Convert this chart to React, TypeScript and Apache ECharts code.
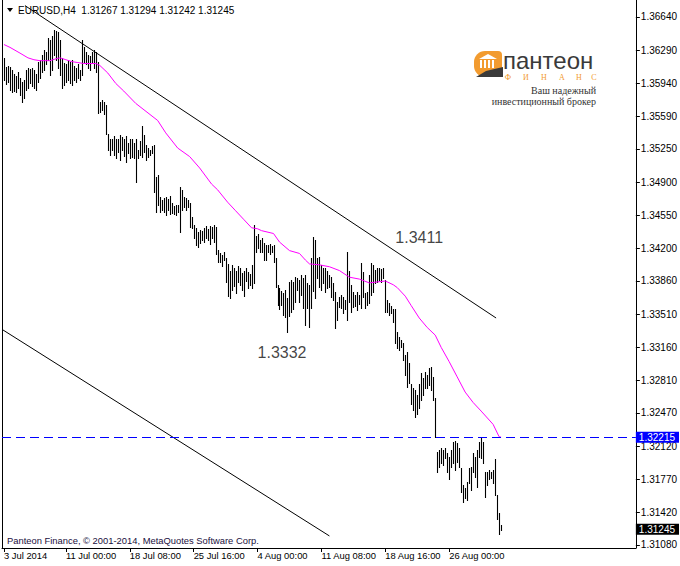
import React, { useEffect, useRef } from "react";
import * as echarts from "echarts";

// ---- data ----
const highs = [
  1.3621, 1.3611, 1.3612, 1.3611, 1.3608, 1.3604, 1.3602, 1.3606, 1.36, 1.3596,
  1.3598, 1.3608, 1.361, 1.3609, 1.361, 1.3608, 1.3604, 1.3617, 1.3619, 1.3624,
  1.3629, 1.3627, 1.3642, 1.364, 1.3644, 1.365, 1.3649, 1.3648, 1.364, 1.3621,
  1.3616, 1.3614, 1.3619, 1.3617, 1.3619, 1.3612, 1.361, 1.3615, 1.3608, 1.364,
  1.3632, 1.3627, 1.3624, 1.3623, 1.3627, 1.3629, 1.3627, 1.3617, 1.3574, 1.3577,
  1.3574, 1.3571, 1.3541, 1.3536, 1.3535, 1.3539, 1.3536, 1.3535, 1.354, 1.3538,
  1.3535, 1.3539, 1.3531, 1.3535, 1.3535, 1.3531, 1.3535, 1.3524, 1.3533, 1.3549,
  1.354, 1.3529, 1.3526, 1.3524, 1.3528, 1.3529, 1.3495, 1.3498, 1.3474, 1.3471,
  1.3473, 1.3474, 1.3472, 1.3476, 1.3468, 1.3465, 1.3466, 1.3466, 1.3485, 1.3482,
  1.3474, 1.3473, 1.3471, 1.3468, 1.3453, 1.3445, 1.3442, 1.3438, 1.344, 1.3439,
  1.3442, 1.3444, 1.3441, 1.3444, 1.3443, 1.3445, 1.3443, 1.3419, 1.3415, 1.3413,
  1.3417, 1.341, 1.3404, 1.3397, 1.3403, 1.34, 1.3397, 1.3402, 1.34, 1.3394,
  1.3397, 1.34, 1.3395, 1.3393, 1.3403, 1.3445, 1.3433, 1.3435, 1.3429, 1.3431,
  1.3426, 1.3424, 1.3424, 1.3425, 1.3423, 1.3424, 1.341, 1.3382, 1.3379, 1.3375,
  1.3373, 1.3377, 1.3368, 1.3385, 1.3387, 1.3385, 1.339, 1.3389, 1.3387, 1.3392,
  1.3389, 1.3392, 1.3384, 1.3382, 1.341, 1.3432, 1.3429, 1.341, 1.3411, 1.3403,
  1.34, 1.34, 1.3396, 1.3392, 1.339, 1.3384, 1.3374, 1.3364, 1.3369, 1.3371,
  1.3369, 1.3366, 1.3416, 1.3396, 1.3382, 1.3374, 1.3371, 1.3374, 1.3371, 1.3405,
  1.3395, 1.3373, 1.3374, 1.3392, 1.3405, 1.3403, 1.3398, 1.34, 1.34, 1.3399,
  1.34, 1.3387, 1.3366, 1.3363, 1.336, 1.3357, 1.3357, 1.3332, 1.3327, 1.3324,
  1.3321, 1.3308, 1.3311, 1.33, 1.3277, 1.3273, 1.3271, 1.3266, 1.3277, 1.3289,
  1.3284, 1.329, 1.3287, 1.3294, 1.3295, 1.3285, 1.3263, 1.3206, 1.3208, 1.321,
  1.3208, 1.321, 1.3205, 1.3201, 1.3208, 1.3216, 1.3217, 1.3215, 1.321, 1.3189,
  1.3171, 1.3168, 1.3174, 1.3189, 1.319, 1.3205, 1.3201, 1.3208, 1.3216, 1.3221,
  1.3216, 1.3185, 1.3185, 1.3187, 1.3185, 1.3187, 1.3198, 1.3161, 1.3142, 1.3129,
];
const lows = [
  1.3598, 1.3593, 1.3596, 1.3587, 1.3585, 1.3586, 1.3585, 1.3589, 1.3582, 1.3575,
  1.3579, 1.3587, 1.3589, 1.3594, 1.3591, 1.3589, 1.3587, 1.3596, 1.36, 1.3606,
  1.3608, 1.3614, 1.3619, 1.3603, 1.3608, 1.3624, 1.3619, 1.361, 1.3603, 1.3589,
  1.3592, 1.3596, 1.3598, 1.3594, 1.3592, 1.3598, 1.3596, 1.36, 1.3598, 1.3603,
  1.3617, 1.3614, 1.361, 1.3608, 1.3617, 1.361, 1.3606, 1.3563, 1.3564, 1.3566,
  1.3562, 1.3541, 1.3524, 1.3519, 1.3524, 1.3519, 1.3516, 1.3522, 1.3513, 1.3524,
  1.3518, 1.3511, 1.3521, 1.3516, 1.3517, 1.3516, 1.349, 1.3516, 1.3519, 1.3517,
  1.3522, 1.3513, 1.3517, 1.3519, 1.3521, 1.348, 1.3459, 1.3466, 1.3459, 1.3461,
  1.3459, 1.3456, 1.3461, 1.3457, 1.3458, 1.3457, 1.3456, 1.3459, 1.3438, 1.3461,
  1.3464, 1.3461, 1.3464, 1.3443, 1.3442, 1.3431, 1.3424, 1.3422, 1.3426, 1.3429,
  1.3427, 1.3431, 1.3429, 1.3425, 1.3431, 1.3427, 1.3414, 1.3406, 1.3406, 1.3402,
  1.3408, 1.3385, 1.337, 1.3368, 1.3377, 1.3381, 1.3373, 1.3385, 1.3382, 1.3377,
  1.337, 1.3386, 1.3379, 1.3382, 1.3379, 1.3384, 1.3417, 1.3421, 1.3417, 1.3416,
  1.3408, 1.3408, 1.3416, 1.3414, 1.3417, 1.3406, 1.338, 1.3361, 1.3356, 1.3361,
  1.335, 1.3348, 1.3332, 1.3349, 1.3353, 1.3357, 1.3364, 1.3377, 1.3364, 1.3371,
  1.3358, 1.334, 1.3358, 1.3338, 1.3358, 1.3375, 1.3368, 1.3389, 1.338, 1.3377,
  1.3384, 1.3374, 1.3379, 1.338, 1.3369, 1.3366, 1.3337, 1.3345, 1.3359, 1.3358,
  1.3352, 1.3356, 1.3345, 1.3364, 1.3353, 1.3359, 1.336, 1.3355, 1.3362, 1.3358,
  1.3369, 1.3358, 1.3361, 1.3363, 1.3371, 1.3374, 1.3384, 1.3385, 1.3387, 1.3385,
  1.3389, 1.3353, 1.3353, 1.335, 1.3352, 1.3343, 1.3321, 1.3315, 1.3313, 1.3317,
  1.3303, 1.3287, 1.3274, 1.3279, 1.3256, 1.325, 1.3243, 1.3246, 1.3252, 1.3261,
  1.3266, 1.3273, 1.3273, 1.3276, 1.3271, 1.3261, 1.3222, 1.3185, 1.319, 1.3194,
  1.3192, 1.32, 1.3185, 1.3177, 1.319, 1.3194, 1.3187, 1.3195, 1.319, 1.3164,
  1.3153, 1.3157, 1.3155, 1.3173, 1.3166, 1.3185, 1.318, 1.3169, 1.3201, 1.32,
  1.3194, 1.3159, 1.3171, 1.3177, 1.3179, 1.3173, 1.3161, 1.3135, 1.312, 1.3124,
];

// moving average (bar index, value)
const maIdx = [0, 3, 8, 12, 15, 18, 23, 26, 28, 31, 34, 37, 40, 46, 48, 52, 56, 60, 66, 77, 81, 87, 93, 98, 104, 107, 112, 116, 120, 124, 127, 129, 135, 138, 143, 148, 151, 153, 158, 163, 168, 173, 178, 183, 187, 191, 195, 197, 201, 204, 208, 212, 216, 219, 223, 227, 231, 235, 239, 245, 248, 249];
const maVal = [1.3635, 1.3632, 1.3626, 1.3621, 1.3619, 1.3618, 1.3618, 1.362, 1.3621, 1.3619, 1.3617, 1.3616, 1.3615, 1.3615, 1.3613, 1.3605, 1.3594, 1.3586, 1.3573, 1.3555, 1.3542, 1.3526, 1.3517, 1.3505, 1.3488, 1.3482, 1.3469, 1.346, 1.3451, 1.3442, 1.3441, 1.3439, 1.3436, 1.3427, 1.3418, 1.3415, 1.3408, 1.3404, 1.3403, 1.3401, 1.3397, 1.339, 1.3388, 1.3384, 1.3385, 1.3386, 1.3382, 1.3379, 1.337, 1.336, 1.3347, 1.3337, 1.3329, 1.3316, 1.3301, 1.3285, 1.3269, 1.3258, 1.3249, 1.3235, 1.3222, 1.32215];

// trend lines (bar index, price)
const upperLine = [[10.5, 1.3676], [246.5, 1.3347]];
const lowerLine = [[-0.5, 1.33344], [163, 1.31175]];

// annotations
const noteIdx = [196, 127];
const notePrice = [1.3432, 1.3311];
const noteText = ["1.3411", "1.3332"];

const levelPrice = 1.32215;
const bidPrice = 1.31245;
const lastOHLC = ["1.31267", "1.31294", "1.31242", "1.31245"];
const symbolName = "EURUSD,H4";

const yTicks = [1.3108, 1.3142, 1.3177, 1.3212, 1.3247, 1.3281, 1.3316, 1.3351, 1.3386, 1.342, 1.3455, 1.349, 1.3525, 1.3559, 1.3594, 1.3629, 1.3664];
const xTickIdx = [0, 31, 63, 95, 127, 159, 191, 223];
const xTickLabels = ["3 Jul 2014", "11 Jul 00:00", "18 Jul 08:00", "25 Jul 16:00", "4 Aug 00:00", "11 Aug 08:00", "18 Aug 16:00", "26 Aug 00:00"];

const FONT = "Liberation Sans, Arial, sans-serif";

export default function App() {
  const ref = useRef<HTMLDivElement>(null);
  useEffect(() => {
    document.body.style.margin = "0";
    const chart = echarts.init(ref.current!, null, { renderer: "svg" });
    const bars = highs.map((h, i) => [i, lows[i], h]);
    const ma = maIdx.map((ix, k) => [ix, maVal[k]]);
    const logoX = 474;
    const logoY = 50;
    const finans = ["Ф", "И", "Н", "А", "Н", "С"];
    const finansX = [508, 526, 544, 562, 579, 594];
    const priceBox = (bg: string) => ({
      show: true,
      position: "end",
      distance: 0,
      backgroundColor: bg,
      color: "#fff",
      padding: [1, 4, 0, 3],
      fontSize: 10,
      fontFamily: FONT,
    });
    chart.setOption({
      animation: false,
      backgroundColor: "#ffffff",
      grid: { left: 2, top: 0, right: 43, bottom: 18, show: false },
      xAxis: {
        type: "value",
        min: -1,
        max: 316.5,
        axisLine: { show: true, lineStyle: { color: "#000", width: 1 } },
        splitLine: { show: false },
        axisTick: { show: true, customValues: xTickIdx, length: 4, lineStyle: { color: "#000" } },
        axisLabel: {
          customValues: xTickIdx,
          formatter: (v: number) => xTickLabels[xTickIdx.indexOf(Math.round(v))] ?? "",
          align: "left",
          margin: 3,
          color: "#000",
          fontSize: 9.4,
          fontFamily: FONT,
        },
      },
      yAxis: [
        {
          type: "value",
          position: "right",
          min: 1.31048,
          max: 1.36819,
          axisLine: { show: true, onZero: false, lineStyle: { color: "#000", width: 1 } },
          splitLine: { show: false },
          axisTick: { show: true, customValues: yTicks, length: 4, lineStyle: { color: "#000" } },
          axisLabel: {
            customValues: yTicks,
            formatter: (v: number) => v.toFixed(5),
            margin: 5,
            color: "#000",
            fontSize: 10,
            fontFamily: FONT,
          },
        },
        {
          type: "value",
          position: "left",
          min: 1.31048,
          max: 1.36819,
          axisLine: { show: true, onZero: false, lineStyle: { color: "#000", width: 1 } },
          axisTick: { show: false },
          axisLabel: { show: false },
          splitLine: { show: false },
        },
      ],
      series: [
        {
          type: "line",
          data: upperLine,
          symbol: "none",
          lineStyle: { color: "#000", width: 1 },
          silent: true,
        },
        {
          type: "line",
          data: lowerLine,
          symbol: "none",
          lineStyle: { color: "#000", width: 1 },
          silent: true,
        },
        {
          type: "custom",
          data: bars,
          encode: { x: 0, y: [1, 2] },
          silent: true,
          renderItem: (params: any, api: any) => {
            const i = api.value(0);
            const lo = api.coord([i, api.value(1)]);
            const hi = api.coord([i, api.value(2)]);
            const x = Math.round(hi[0]) + 0.5;
            return {
              type: "line",
              shape: { x1: x, y1: Math.round(hi[1]), x2: x, y2: Math.round(lo[1]) + 1 },
              style: { stroke: "#000", lineWidth: 1.1 },
            };
          },
        },
        {
          type: "line",
          data: ma,
          symbol: "none",
          lineStyle: { color: "#ff00ff", width: 1 },
          silent: true,
          markLine: {
            silent: true,
            precision: 5,
            symbol: ["none", "none"],
            data: [
              {
                yAxis: levelPrice,
                lineStyle: { color: "#0000ff", type: [9, 5], width: 1 },
                label: { ...priceBox("#0000ff"), formatter: levelPrice.toFixed(5) },
              },
            ],
          },
        },
        {
          type: "line",
          data: [],
          symbol: "none",
          silent: true,
          markLine: {
            silent: true,
            precision: 5,
            symbol: ["none", "none"],
            lineStyle: { color: "rgba(0,0,0,0)", width: 0 },
            data: [
              {
                yAxis: bidPrice,
                label: { ...priceBox("#000"), formatter: bidPrice.toFixed(5) },
              },
            ],
          },
        },
        {
          type: "scatter",
          data: noteIdx.map((ix, k) => [ix, notePrice[k], noteText[k]]),
          symbolSize: 0,
          silent: true,
          label: {
            show: true,
            position: "right",
            distance: 0,
            formatter: (p: any) => p.data[2],
            color: "#111",
            fontSize: 16,
            fontFamily: FONT,
          },
        },
      ],
      graphic: [
        { type: "polygon", shape: { points: [[7, 8], [13, 8], [10, 12]] }, style: { fill: "#000" } },
        {
          type: "text",
          x: 18,
          y: 10,
          style: {
            text: symbolName + "  " + lastOHLC.join(" "),
            fontSize: 10,
            fontFamily: FONT,
            fill: "#000",
            verticalAlign: "middle",
          },
        },
        {
          type: "text",
          x: 7,
          y: 540,
          style: {
            text: "Panteon Finance, © 2001-2014, MetaQuotes Software Corp.",
            fontSize: 9.4,
            fontFamily: FONT,
            fill: "#1a1040",
            verticalAlign: "middle",
          },
        },
        // logo
        {
          type: "group",
          children: [
            { type: "rect", shape: { x: logoX, y: logoY + 1, width: 28, height: 26, r: [11, 4, 4, 11] }, style: { fill: "#f29b2f" } },
            { type: "polygon", shape: { points: [[logoX + 5, logoY + 9], [logoX + 14, logoY + 4], [logoX + 23, logoY + 9]] }, style: { fill: "#fff" } },
            { type: "rect", shape: { x: logoX + 6, y: logoY + 10, width: 2, height: 8 }, style: { fill: "#fff" } },
            { type: "rect", shape: { x: logoX + 10, y: logoY + 10, width: 2, height: 8 }, style: { fill: "#fff" } },
            { type: "rect", shape: { x: logoX + 14, y: logoY + 10, width: 2, height: 8 }, style: { fill: "#fff" } },
            { type: "rect", shape: { x: logoX + 18, y: logoY + 10, width: 2, height: 8 }, style: { fill: "#fff" } },
            { type: "polygon", shape: { points: [[logoX + 2, logoY + 27], [logoX + 12, logoY + 21], [logoX + 29, logoY + 17], [logoX + 29, logoY + 27]] }, style: { fill: "#3a3a3a" } },
            {
              type: "text",
              x: 503,
              y: 60,
              style: { text: "пантеон", fontSize: 24, fontFamily: FONT, fill: "#3a3a3a", verticalAlign: "middle" },
            },
            ...finans.map((ch, k) => ({
              type: "text",
              x: finansX[k],
              y: 77,
              style: { text: ch, fontSize: 8, fontFamily: "Liberation Serif, serif", fill: "#f29b2f", verticalAlign: "middle", align: "center" },
            })),
            {
              type: "text",
              x: 596,
              y: 90,
              style: { text: "Ваш надежный", fontSize: 10, fontFamily: "Liberation Serif, serif", fill: "#333", align: "right", verticalAlign: "middle" },
            },
            {
              type: "text",
              x: 596,
              y: 101,
              style: { text: "инвестиционный брокер", fontSize: 10, fontFamily: "Liberation Serif, serif", fill: "#333", align: "right", verticalAlign: "middle" },
            },
          ],
        },
      ],
    });
    return () => chart.dispose();
  }, []);
  return <div ref={ref} style={{ width: 680, height: 566, overflow: "hidden" }} />;
}
